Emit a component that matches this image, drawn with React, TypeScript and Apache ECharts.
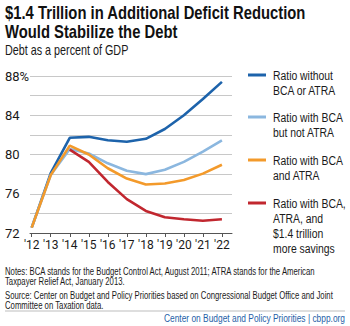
import React, { useEffect, useRef } from "react";
import * as echarts from "echarts";

const years = [12, 13, 14, 15, 16, 17, 18, 19, 20, 21, 22];
const yTicks = [72, 76, 80, 84, 88];

const seriesNames = [
  "Ratio without\nBCA or ATRA",
  "Ratio with BCA\nbut not ATRA",
  "Ratio with BCA\nand ATRA",
  "Ratio with BCA,\nATRA, and\n$1.4 trillion\nmore savings",
];
const seriesColors = ["#1d63ab", "#8bb7df", "#f39a2b", "#c1272f"];

const withoutBcaAtra = [72.55, 78.1, 81.7, 81.8, 81.45, 81.3, 81.6, 82.6, 84.0, 85.65, 87.4];
const bcaNotAtra = [72.55, 77.9, 80.55, 80.1, 79.1, 78.35, 78.0, 78.45, 79.25, 80.3, 81.45];
const bcaAndAtra = [72.55, 77.9, 80.9, 80.0, 78.6, 77.55, 76.95, 77.05, 77.4, 78.05, 78.95];
const withSavings = [null, null, 80.5, 79.25, 77.2, 75.45, 74.25, 73.6, 73.4, 73.25, 73.4];

const FONT = "'Liberation Sans', Arial, sans-serif";
const AXIS_FONT = "Roboto, 'Liberation Sans', sans-serif";

function scaledText(
  x: number,
  y: number,
  sx: number,
  text: string,
  style: Record<string, any>
) {
  return {
    type: "group",
    x,
    y,
    scaleX: sx,
    children: [
      {
        type: "text",
        x: 0,
        y: 0,
        style: { text, fontFamily: FONT, fill: "#1a1a1a", ...style },
      },
    ],
  };
}

export default function App() {
  const ref = useRef<HTMLDivElement>(null);
  useEffect(() => {
    if (!ref.current) return;
    const chart = echarts.init(ref.current, null, { renderer: "svg" });
    const allData = [withoutBcaAtra, bcaNotAtra, bcaAndAtra, withSavings];
    const drawOrder = [3, 1, 2, 0];
    const series = drawOrder.map((i) => ({
      type: "line",
      name: seriesNames[i],
      data: years.map((y, k) => (allData[i][k] == null ? null : [y, allData[i][k]])),
      showSymbol: false,
      lineStyle: { color: seriesColors[i], width: 2.6 },
      itemStyle: { color: seriesColors[i] },
      z: 2 + i,
    }));

    const legendTops = [68, 110, 153, 196];
    const legendGraphics: any[] = [];
    seriesNames.forEach((name, i) => {
      legendGraphics.push({
        type: "line",
        shape: { x1: 248, y1: legendTops[i] + 7, x2: 266, y2: legendTops[i] + 7 },
        style: { stroke: seriesColors[i], lineWidth: 3 },
      });
      legendGraphics.push(
        scaledText(273, legendTops[i], 0.77, name, { fontSize: 13.5, lineHeight: 15 })
      );
    });

    chart.setOption({
      animation: false,
      grid: { left: 30, right: 118, top: 76, bottom: 93, containLabel: false },
      xAxis: {
        type: "value",
        min: 11.91,
        max: 22.53,
        splitLine: { show: false },
        axisLine: { show: true, lineStyle: { color: "#555", width: 1 } },
        axisTick: {
          show: true,
          length: 4,
          lineStyle: { color: "#555" },
          customValues: years,
        },
        axisLabel: {
          customValues: years,
          showMinLabel: true,
          showMaxLabel: true,
          hideOverlap: false,
          formatter: (v: number) => "'" + String(Math.round(v)),
          fontFamily: AXIS_FONT,
          fontSize: 12,
          color: "#1a1a1a",
          margin: 6,
        },
      },
      yAxis: {
        type: "value",
        min: 72,
        max: 88,
        interval: 2,
        axisLine: { show: false },
        axisTick: { show: false },
        splitLine: { lineStyle: { color: "#c8c8c8", width: 1 } },
        axisLabel: {
          formatter: (v: number) =>
            yTicks.includes(v) ? (v === 88 ? v + "%" : String(v)) : "",
          fontFamily: AXIS_FONT,
          fontSize: 13,
          color: "#1a1a1a",
          align: "left",
          margin: 25,
        },
      },
      series,
      graphic: [
        scaledText(
          5,
          3,
          0.8,
          "$1.4 Trillion in Additional Deficit Reduction\nWould Stabilize the Debt",
          { fontSize: 18.5, fontWeight: "bold", lineHeight: 19, fill: "#111" }
        ),
        scaledText(5, 44, 0.77, "Debt as a percent of GDP", { fontSize: 14 }),
        ...legendGraphics,
        scaledText(
          5,
          266,
          0.775,
          "Notes: BCA stands for the Budget Control Act, August 2011; ATRA stands for the American\nTaxpayer Relief Act, January 2013.",
          { fontSize: 10, lineHeight: 10.5 }
        ),
        scaledText(
          5,
          290,
          0.775,
          "Source: Center on Budget and Policy Priorities based on Congressional Budget Office and Joint\nCommittee on Taxation data.",
          { fontSize: 10, lineHeight: 10.5 }
        ),
        {
          type: "line",
          shape: { x1: 5, y1: 311, x2: 345, y2: 311 },
          style: { stroke: "#bdbdbd", lineWidth: 1 },
        },
        {
          type: "group",
          x: 345,
          y: 312,
          scaleX: 0.73,
          children: [
            {
              type: "text",
              x: 0,
              y: 0,
              style: {
                text: "Center on Budget and Policy Priorities | cbpp.org",
                fontFamily: FONT,
                fontSize: 11.5,
                fill: "#1f5fa8",
                align: "right",
              },
            },
          ],
        },
      ],
    });
    return () => chart.dispose();
  }, []);
  return (
    <div
      ref={ref}
      style={{ position: "fixed", left: 0, top: 0, width: 350, height: 326, background: "#fff" }}
    />
  );
}
